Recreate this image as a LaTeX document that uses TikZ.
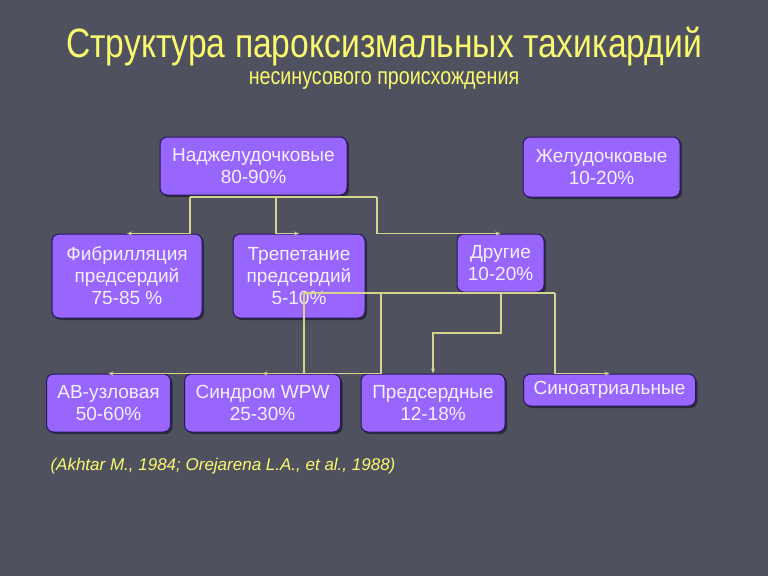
\documentclass[tikz,border=0pt]{standalone}
\usepackage{fontspec}
\setmainfont{Liberation Sans}
\newfontfamily\narrowsans[FakeStretch=0.82]{Liberation Sans}
\usetikzlibrary{arrows.meta,shadows}

\definecolor{slide}{RGB}{79,81,95}
\definecolor{boxfill}{RGB}{152,102,252}
\definecolor{boxline}{RGB}{38,22,96}
\definecolor{boxtext}{RGB}{244,240,255}
\definecolor{titleyel}{RGB}{250,250,110}
\definecolor{linkcol}{RGB}{212,212,140}

\tikzset{
  box/.style={draw=boxline, line width=1pt, fill=boxfill, rounded corners=7pt,
    text=boxtext, align=center, inner sep=0pt,
    font=\fontsize{19}{22}\selectfont,
    drop shadow={shadow xshift=2pt, shadow yshift=-2pt, opacity=0.45, fill=black}},
  link/.style={draw=linkcol, line width=1.2pt},
}

\begin{document}
\begin{tikzpicture}[x=1pt, y=-1pt, >={Stealth[length=5pt,width=4pt]}]
            \fill[slide] (0,0) rectangle (768,576);
            \useasboundingbox (0,0) rectangle (768,576);

            % title
            \node[text=titleyel, font=\narrowsans\fontsize{41}{44}\selectfont] (title) at (384,47)
                {Структура пароксизмальных тахикардий};
            \node[text=titleyel, font=\narrowsans\fontsize{24}{27}\selectfont] (subtitle) at (384,81)
                {несинусового происхождения};

            % first level
            \node[box, minimum width=187pt, minimum height=58pt] (nadzh) at (253.5,166) {Наджелудочковые\\80-90\%};
            \node[box, minimum width=157pt, minimum height=60pt] (zhel) at (601.5,167) {Желудочковые\\10-20\%};

            % second level
            \node[box, minimum width=150pt, minimum height=84pt] (fibr) at (127,276) {Фибрилляция\\предсердий\\75-85 \%};
            \node[box, minimum width=132pt, minimum height=84pt] (trep) at (299,276) {Трепетание\\предсердий\\5-10\%};
            \node[box, minimum width=87pt, minimum height=58pt] (drug) at (500.5,263) {Другие\\10-20\%};

            % third level
            \node[box, minimum width=124pt, minimum height=58pt] (av) at (108.5,403) {АВ-узловая\\50-60\%};
            \node[box, minimum width=156pt, minimum height=58pt] (wpw) at (262.5,403) {Синдром WPW\\25-30\%};
            \node[box, minimum width=144pt, minimum height=58pt] (pred) at (433,403) {Предсердные\\12-18\%};
            \node[box, minimum width=172pt, minimum height=32pt] (sino) at (609.5,390) {Синоатриальные};

            % connectors from Наджелудочковые
            \coordinate (t1) at (190,197);
            \coordinate (t2) at (276,197);
            \coordinate (t3) at (377,197);
            \draw[link] (t1) -- (t3);
            \draw[link,->] (t1) |- (fibr.north);
            \draw[link,->] (t2) |- (trep.north);
            \draw[link,->] (t3) |- (drug.north);

            % connectors from Другие
            \coordinate (b1) at (304,293);
            \coordinate (b2) at (381,293);
            \coordinate (b3) at (501,293);
            \coordinate (b4) at (555,293);
            \draw[link] (b1) -- (b4);
            \draw[link,->] (b2) |- (av.north);
            \draw[link,->] (b1) |- (wpw.north);
            \draw[link,->] (b3) -- ++(0,40) -| (pred.north);
            \draw[link,->] (b4) |- (sino.north);

            %\draw[link] (drug.south) -- (b3);

            \node[text=titleyel, font=\itshape\fontsize{17}{20}\selectfont, anchor=west] (cite) at (47,466)
                {(Akhtar M., 1984; Orejarena L.A., et al., 1988)};
\end{tikzpicture}
\end{document}
